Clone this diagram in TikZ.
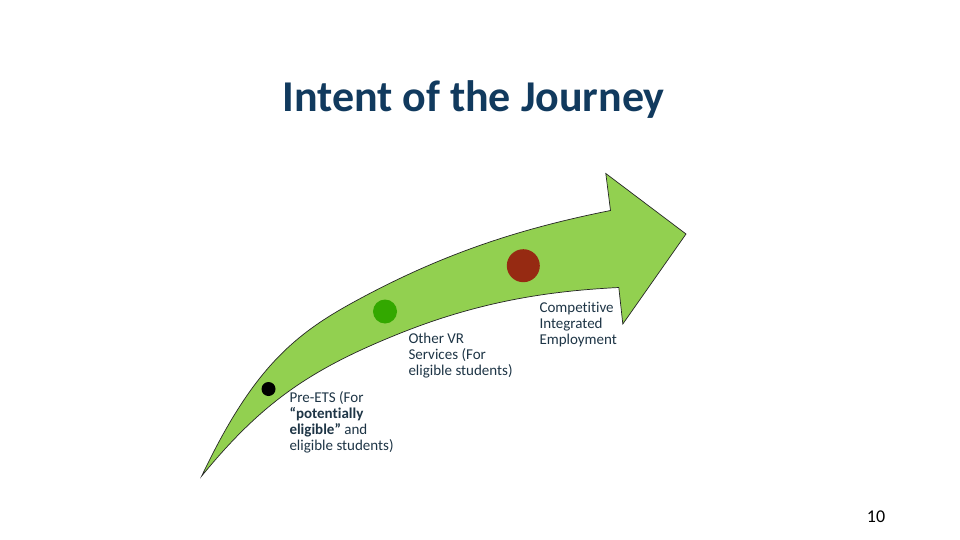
\documentclass[tikz,border=0pt]{standalone}
\usepackage{fontspec}
\setmainfont{Carlito}[Ligatures=CommonOff]
\definecolor{titleblue}{HTML}{113A5E}
\definecolor{bodytext}{HTML}{1E3546}
\definecolor{arrowgreen}{HTML}{92D050}
\definecolor{dotgreen}{HTML}{33A800}
\definecolor{dotred}{HTML}{962A12}
\begin{document}
\begin{tikzpicture}[x=1pt,y=-1pt,
  lbl/.style={anchor=base west,inner sep=0pt,align=left,font=\fontsize{15}{16}\selectfont,text=bodytext},
  dotstyle/.style={circle,inner sep=0pt,draw=none}]
\useasboundingbox[fill=white] (0,0) rectangle (960,540);
% title
\node[anchor=base,inner sep=0pt,font=\fontsize{44}{50}\selectfont\bfseries,text=titleblue] (title) at (473.5,112) {Intent of the Journey};
% curved arrow
\coordinate (tail) at (201.7,476);
\coordinate (um) at (352,303);
\coordinate (nu) at (610.5,210.5);
\coordinate (ht) at (605.8,173.5);
\coordinate (tip) at (686,234);
\coordinate (hb) at (622.8,324);
\coordinate (nl) at (618.8,287.5);
\coordinate (lm) at (400,333.3);
\draw[fill=arrowgreen,draw=black!85,line width=0.7pt,line join=miter]
  (tail) .. controls (251.7,371) and (292,336) .. (um)
  .. controls (442,253.5) and (520.5,228.5) .. (nu)
  -- (ht) -- (tip) -- (hb) -- (nl)
  .. controls (548.8,291) and (480,301.3) .. (lm)
  .. controls (310,369.3) and (261.7,402.8) .. (tail) -- cycle;
% dots
\node[dotstyle,fill=black,minimum size=14pt] (d1) at (268.5,389) {};
\node[dotstyle,fill=dotgreen,minimum size=24pt] (d2) at (385,311.5) {};
\node[dotstyle,fill=dotred,minimum size=33pt] (d3) at (523.3,265.7) {};
% labels (anchor = baseline of last line)
\node[lbl] (l1) at (289.3,450.7) {Pre-ETS (For\\\textbf{“potentially}\\\textbf{eligible”} and\\eligible students)};
\node[lbl] (l2) at (408.3,375.3) {Other VR\\Services (For\\eligible students)};
\node[lbl] (l3) at (539.3,344.7) {Competitive\\Integrated\\Employment};
% page number
\node[anchor=base,inner sep=0pt,font=\fontsize{18}{20}\selectfont] (pg) at (876,522) {10};
\end{tikzpicture}
\end{document}
